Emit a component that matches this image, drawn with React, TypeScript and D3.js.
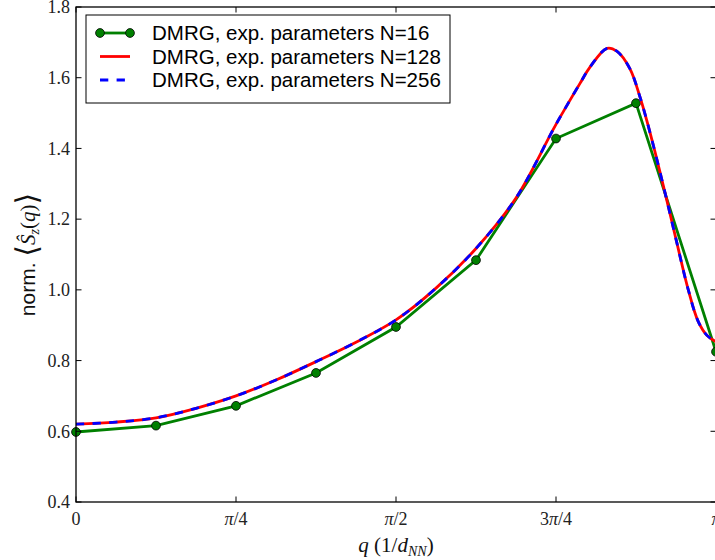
import React from "react";
import * as d3 from "d3";

// N=16 data (q in units of pi)
const n16Q = [0, 0.125, 0.25, 0.375, 0.5, 0.625, 0.75, 0.875, 1.0];
const n16Val = [0.598, 0.616, 0.672, 0.765, 0.895, 1.084, 1.428, 1.528, 0.825];

// N=128 / N=256 curves (q in units of pi)
const curveQ = [0, 0.0625, 0.125, 0.1875, 0.25, 0.3125, 0.375, 0.4375, 0.5, 0.5625, 0.625, 0.6875, 0.75, 0.7875, 0.8031, 0.8297, 0.845, 0.8656, 0.8813, 0.8917, 0.9047, 0.9203, 0.9308, 0.9386, 0.9567, 0.9723, 0.9855, 1.0];
const n128Val = [0.62, 0.626, 0.638, 0.665, 0.7, 0.745, 0.797, 0.852, 0.915, 1.005, 1.117, 1.26, 1.468, 1.584, 1.63, 1.683, 1.675, 1.625, 1.545, 1.48, 1.39, 1.275, 1.195, 1.135, 1.0, 0.91, 0.872, 0.853];
const n256Val = [0.62, 0.626, 0.638, 0.665, 0.7, 0.745, 0.797, 0.852, 0.915, 1.005, 1.117, 1.26, 1.468, 1.584, 1.63, 1.683, 1.675, 1.625, 1.545, 1.48, 1.39, 1.275, 1.195, 1.135, 1.0, 0.91, 0.872, 0.853];

const xTickVals = [0, 0.25, 0.5, 0.75, 1.0];
const xTickLabels = [["0"], ["π", "/4"], ["π", "/2"], ["3", "π", "/4"], ["π"]];
const yTickVals = [0.4, 0.6, 0.8, 1.0, 1.2, 1.4, 1.6, 1.8];
const legendLabels = [
  "DMRG, exp. parameters N=16",
  "DMRG, exp. parameters N=128",
  "DMRG, exp. parameters N=256",
];

const W = 715, H = 560;
const L = 76, R = 716, T = 7, B = 502;
const serif = "'Liberation Serif', 'DejaVu Serif', serif";
const sans = "'Liberation Sans', Arial, sans-serif";

export default function App() {
  const x = d3.scaleLinear().domain([0, 1]).range([L, R]);
  const y = d3.scaleLinear().domain([0.4, 1.8]).range([B, T]);
  const tl = 5.5;

  const green = d3.line<number>().x((_, i) => x(n16Q[i])).y((d) => y(d));
  const smooth = d3
    .line<number>()
    .x((_, i) => x(curveQ[i]))
    .y((d) => y(d))
    .curve(d3.curveCatmullRom.alpha(0.5));

  const isPi = (s: string) => s === "π";

  return (
    <svg
      width={W}
      height={H}
      style={{ position: "absolute", left: 0, top: 0, background: "#fff" }}
    >
      <defs>
        <clipPath id="plot">
          <rect x={L} y={T} width={R - L} height={B - T} />
        </clipPath>
      </defs>
      <rect x={0} y={0} width={W} height={H} fill="#fff" />

      {/* data */}
      <g>
        <path d={green(n16Val) || ""} fill="none" stroke="#008000" strokeWidth={2.8} />
        {n16Val.map((v, i) => (
          <circle key={i} cx={x(n16Q[i])} cy={y(v)} r={4.4} fill="#008000" stroke="#000" strokeWidth={0.8} />
        ))}
        <path d={smooth(n128Val) || ""} fill="none" stroke="#ff0000" strokeWidth={2.8} clipPath="url(#plot)" />
        <path
          d={smooth(n256Val) || ""}
          fill="none"
          stroke="#0000ff"
          strokeWidth={2.8}
          strokeDasharray="8.3,8.3"
          clipPath="url(#plot)"
        />
      </g>

      {/* frame */}
      <rect x={L} y={T} width={R - L} height={B - T} fill="none" stroke="#000" strokeWidth={1.3} />

      {/* x ticks */}
      {xTickVals.map((v, i) => (
        <g key={i}>
          <line x1={x(v)} x2={x(v)} y1={B} y2={B - tl} stroke="#000" strokeWidth={1} />
          <line x1={x(v)} x2={x(v)} y1={T} y2={T + tl} stroke="#000" strokeWidth={1} />
          <text x={x(v)} y={525} textAnchor="middle" fontFamily={serif} fontSize={18} fill="#222">
            {xTickLabels[i].map((s, j) => (
              <tspan key={j} fontStyle={isPi(s) ? "italic" : "normal"}>{s}</tspan>
            ))}
          </text>
        </g>
      ))}

      {/* y ticks */}
      {yTickVals.map((v, i) => (
        <g key={i}>
          <line x1={L} x2={L + tl} y1={y(v)} y2={y(v)} stroke="#000" strokeWidth={1} />
          <line x1={R} x2={R - tl} y1={y(v)} y2={y(v)} stroke="#000" strokeWidth={1} />
          <text x={70} y={y(v)} dy="0.35em" textAnchor="end" fontFamily={serif} fontSize={18} fill="#222">
            {v.toFixed(1)}
          </text>
        </g>
      ))}

      {/* x label */}
      <text x={(L + R) / 2} y={552} textAnchor="middle" fontFamily={serif} fontSize={21} fill="#111">
        <tspan fontStyle="italic">q</tspan>
        <tspan> (1/</tspan>
        <tspan fontStyle="italic">d</tspan>
        <tspan fontStyle="italic" fontSize={14} dy={4}>NN</tspan>
        <tspan dy={-4}>)</tspan>
      </text>

      {/* y label */}
      <text
        transform={`translate(35, ${(T + B) / 2}) rotate(-90)`}
        textAnchor="middle"
        fontSize={21}
        fill="#111"
      >
        <tspan fontFamily={sans}>norm. </tspan>
        <tspan fontFamily={serif} fontSize={30} dy={2}>⟨</tspan>
        <tspan fontFamily={serif} fontStyle="italic" dy={-2}>Ŝ</tspan>
        <tspan fontFamily={serif} fontStyle="italic" fontSize={14} dy={4}>z</tspan>
        <tspan fontFamily={serif} dy={-4}>(</tspan>
        <tspan fontFamily={serif} fontStyle="italic">q</tspan>
        <tspan fontFamily={serif}>)</tspan>
        <tspan fontFamily={serif} fontSize={30} dy={2}>⟩</tspan>
      </text>

      {/* legend */}
      <g>
        <rect x={86} y={15} width={364} height={88} fill="#fff" stroke="#000" strokeWidth={1} />
        {legendLabels.map((lab, i) => {
          const cy = 33 + i * 23.5;
          return (
            <g key={i}>
              {i === 0 && (
                <>
                  <line x1={100} x2={130} y1={cy} y2={cy} stroke="#008000" strokeWidth={2.8} />
                  <circle cx={100} cy={cy} r={4.4} fill="#008000" stroke="#000" strokeWidth={0.8} />
                  <circle cx={130} cy={cy} r={4.4} fill="#008000" stroke="#000" strokeWidth={0.8} />
                </>
              )}
              {i === 1 && <line x1={100} x2={130} y1={cy} y2={cy} stroke="#ff0000" strokeWidth={2.8} />}
              {i === 2 && (
                <line x1={100} x2={130} y1={cy} y2={cy} stroke="#0000ff" strokeWidth={2.8} strokeDasharray="8.3,8.3" />
              )}
              <text x={152} y={cy} dy="0.36em" fontFamily={sans} fontSize={20.5} fill="#000">
                {lab}
              </text>
            </g>
          );
        })}
      </g>
    </svg>
  );
}
